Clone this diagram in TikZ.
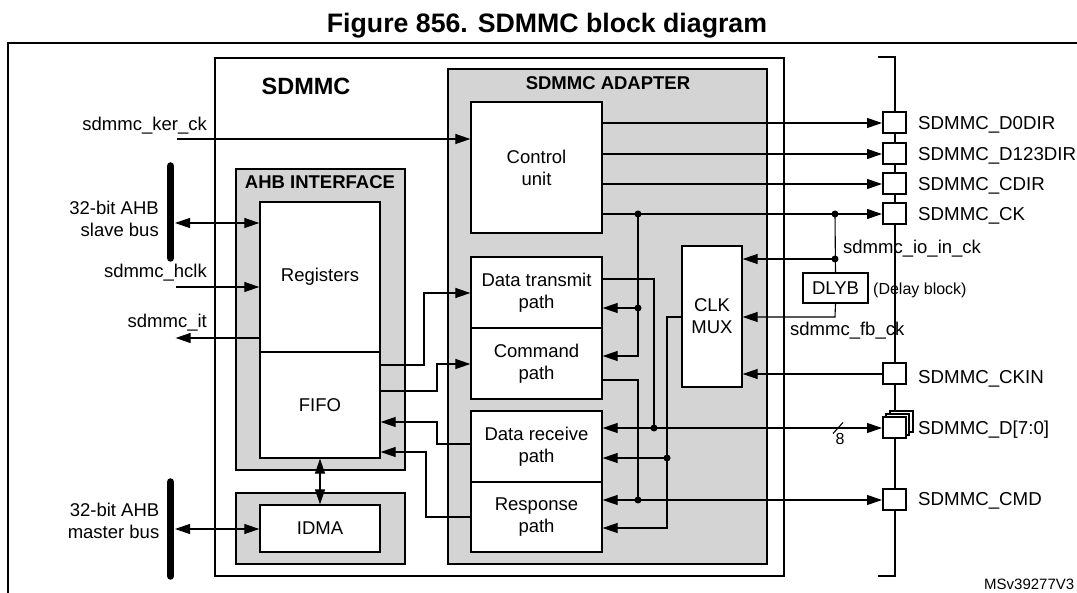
\documentclass[tikz,border=0pt]{standalone}
\usepackage{fontspec}
\setmainfont{Liberation Sans}
\usetikzlibrary{arrows.meta}
\definecolor{boxgray}{RGB}{212,212,212}
\tikzset{
  blk/.style={draw, line width=1.3pt, fill=white, inner sep=0pt, align=center, font=\fontsize{18.5}{22}\selectfont},
  grp/.style={draw, line width=1.3pt, fill=boxgray, inner sep=0pt},
  ttl/.style={inner sep=0pt, font=\bfseries\fontsize{18.5}{22}\selectfont},
  txt/.style={inner sep=0pt, font=\fontsize{18.5}{22}\selectfont},
  pintxt/.style={inner sep=0pt, font=\fontsize{18.7}{22}\selectfont},
  small/.style={inner sep=0pt, font=\fontsize{16}{19}\selectfont},
  pinbox/.style={draw, line width=2pt, fill=white, minimum width=23pt, minimum height=21pt, inner sep=0pt},
  sig/.style={line width=1.1pt},
  jdot/.style={circle, fill, inner sep=0pt, minimum size=7pt},
  busbar/.style={line width=7.5pt, line cap=round},
}
\begin{document}
\begin{tikzpicture}[x=1pt, y=-1pt, >={Triangle[length=15pt,width=10pt]}]
		\useasboundingbox (0,0) rectangle (1077,593);
		%Frame
		\draw [line width=2pt] (7.5,593) -- (7.5,43) -- (1077,43);
		\node [inner sep=0pt, anchor=base, font=\bfseries\fontsize{26.7}{30}\selectfont] (title) at (547,33) {Figure 856. SDMMC block diagram};
		%Containers
		\node [draw, line width=2pt, inner sep=0pt, minimum width=569pt, minimum height=518pt] (sdmmc) at (499.5,317) {};
		\node [grp, minimum width=319pt, minimum height=495pt] (adapter) at (607.5,316.5) {};
		\node [grp, minimum width=169pt, minimum height=301pt] (ahb) at (320.5,319.5) {};
		\node [grp, minimum width=169pt, minimum height=71pt] (dmagrp) at (320.5,528.5) {};
		\node [ttl, anchor=base] (sdmmclbl) at (306,95) {\fontsize{23.5}{26}\selectfont SDMMC};
		\node [ttl, anchor=base] (adaptlbl) at (608,89.3) {SDMMC ADAPTER};
		\node [ttl, anchor=base] (ahblbl) at (320,189) {AHB INTERFACE};
		%Blocks
		\node [blk, minimum width=120pt, minimum height=150pt] (regs) at (320,277) {Registers};
		\node [blk, minimum width=120pt, minimum height=106pt] (fifo) at (320,405) {FIFO};
		\node [blk, minimum width=120pt, minimum height=47pt] (idma) at (320,528.5) {IDMA};
		\node [blk, minimum width=131pt, minimum height=131pt] (ctrl) at (536.5,167.5) {Control\\unit};
		\node [blk, minimum width=131pt, minimum height=71pt] (dtx) at (536.5,292.5) {Data transmit\\path};
		\node [blk, minimum width=131pt, minimum height=71pt] (cmdp) at (536.5,363.5) {Command\\path};
		\node [blk, minimum width=131pt, minimum height=71pt] (drx) at (536.5,446.5) {Data receive\\path};
		\node [blk, minimum width=131pt, minimum height=70pt] (resp) at (536.5,517) {Response\\path};
		\node [blk, minimum width=60pt, minimum height=141pt] (clkmux) at (712,316.5) {CLK\\MUX};
		\node [blk, minimum width=65pt, minimum height=30pt] (dlyb) at (835.5,288) {DLYB};
		%Pins
		\draw [line width=2pt] (878,57) -- (894.5,57) -- (894.5,576) -- (878,576);
		\node [pinbox] (pdo) at (894.5,123) {};
		\node [pinbox] (pdd) at (894.5,154) {};
		\node [pinbox] (pcd) at (894.5,184) {};
		\node [pinbox] (pck) at (894.5,214) {};
		\node [pinbox] (pckin) at (894.5,374) {};
		\node [pinbox] (pdat2) at (901,421.5) {};
		\node [pinbox] (pdat1) at (897.75,424.75) {};
		\node [pinbox] (pdat) at (894.5,428) {};
		\node [pinbox] (pcmd) at (894.5,500) {};
		\node [pintxt, anchor=base west] (ldo) at (918,130) {SDMMC\_D0DIR};
		\node [pintxt, anchor=base west] (ldd) at (918,160.7) {SDMMC\_D123DIR};
		\node [pintxt, anchor=base west] (lcd) at (918,190.7) {SDMMC\_CDIR};
		\node [pintxt, anchor=base west] (lck) at (918,220.7) {SDMMC\_CK};
		\node [pintxt, anchor=base west] (lckin) at (918,384) {SDMMC\_CKIN};
		\node [pintxt, anchor=base west] (ldat) at (918,434.6) {SDMMC\_D[7:0]};
		\node [pintxt, anchor=base west] (lcmd) at (918,506) {SDMMC\_CMD};
		%Left side
		\draw [busbar] (170.5,166) -- (170.5,258);
		\draw [busbar] (170.5,482) -- (170.5,576);
		\node [txt, align=right, anchor=east] (slvlbl) at (159,219.3) {32-bit AHB\\slave bus};
		\node [txt, align=right, anchor=east] (mstlbl) at (159.5,520.6) {32-bit AHB\\master bus};
		\node [txt, anchor=base east] (kerlbl) at (207,131) {sdmmc\_ker\_ck};
		\node [txt, anchor=base east] (hclklbl) at (207,278) {sdmmc\_hclk};
		\node [txt, anchor=base east] (itlbl) at (207,328) {sdmmc\_it};
		\coordinate (kin) at (177,139);
		\coordinate (sbus) at (175,223);
		\coordinate (hck) at (175.6,287);
		\coordinate (itq) at (175.6,338);
		\coordinate (mbus) at (175,529);
		\draw [sig,->] (kin) -- (kin -| ctrl.west);
		\draw [sig,<->] (sbus) -- (sbus -| regs.west);
		\draw [sig,->] (hck) -- (hck -| regs.west);
		\draw [sig,->] (itq -| regs.west) -- (itq);
		\draw [sig,<->] (mbus) -- (mbus -| idma.west);
		\draw [sig,<->] (fifo.south) -- (idma.north);
		%FIFO links
		\coordinate (f1) at (424,365);
		\coordinate (f2) at (424,293);
		\coordinate (f3) at (437,391);
		\coordinate (f4) at (437,364);
		\coordinate (f5) at (437,444);
		\coordinate (f6) at (437,422);
		\coordinate (f7) at (426,517);
		\coordinate (f8) at (426,452);
		\draw [sig,->] (f1 -| fifo.east) -- (f1) -- (f2) -- (f2 -| dtx.west);
		\draw [sig,->] (f3 -| fifo.east) -- (f3) -- (f4) -- (f4 -| cmdp.west);
		\draw [sig,->] (f5 -| drx.west) -- (f5) -- (f6) -- (f6 -| fifo.east);
		\draw [sig,->] (f7 -| resp.west) -- (f7) -- (f8) -- (f8 -| fifo.east);
		%Control unit outputs
		\foreach \p in {pdo,pdd,pcd,pck}
			\draw [sig,->] (ctrl.east |- \p) -- (\p.west);
		\node [jdot] (jck) at (638,214) {};
		\node [jdot] (jtx) at (638,308) {};
		\node [jdot] (jdl) at (835,214) {};
		\node [jdot] (jio) at (835,259) {};
		\coordinate (ckcmd) at (638,356);
		\draw [sig,->] (jck.center) -- (ckcmd) -- (ckcmd -| cmdp.east);
		\draw [sig,->] (jtx.center) -- (jtx -| dtx.east);
		%Clock
		\draw [sig] (jdl.center) -- (dlyb.north);
		\draw [sig,->] (jio.center) -- (jio -| clkmux.east);
		\coordinate (fbk) at (835,317);
		\draw [sig,->] (dlyb.south) -- (fbk) -- (fbk -| clkmux.east);
		\draw [sig,->] (pckin.west) -- (pckin -| clkmux.east);
		\node [txt, anchor=base west] (iolbl) at (843,254) {sdmmc\_io\_in\_ck};
		\node [small, anchor=base west] (dlylbl) at (873,295) {(Delay block)};
		\node [txt, anchor=base west] (fblbl) at (790,336) {sdmmc\_fb\_ck};
		%Data and command
		\coordinate (txo) at (654,279);
		\node [jdot] (jdat) at (654,428) {};
		\draw [sig] (txo -| dtx.east) -- (txo) -- (jdat.center);
		\draw [sig,<->] (jdat -| drx.east) -- (pdat.west);
		\draw [sig] (833,433.5) -- (843,422.5);
		\node [small, anchor=base] (wlbl) at (840,445) {8};
		\coordinate (cmo) at (638,380);
		\node [jdot] (jcmd) at (638,500) {};
		\draw [sig] (cmo -| cmdp.east) -- (cmo) -- (jcmd.center);
		\draw [sig,<->] (jcmd -| resp.east) -- (pcmd.west);
		\coordinate (mxo) at (667,317);
		\coordinate (mxr) at (667,528);
		\node [jdot] (jmx) at (667,458) {};
		\draw [sig,->] (mxo -| clkmux.west) -- (mxo) -- (mxr) -- (mxr -| resp.east);
		\draw [sig,->] (jmx.center) -- (jmx -| drx.east);
		\node [inner sep=0pt, anchor=base west, font=\fontsize{15}{18}\selectfont] (refid) at (984,589) {MSv39277V3};
	\end{tikzpicture}
\end{document}
